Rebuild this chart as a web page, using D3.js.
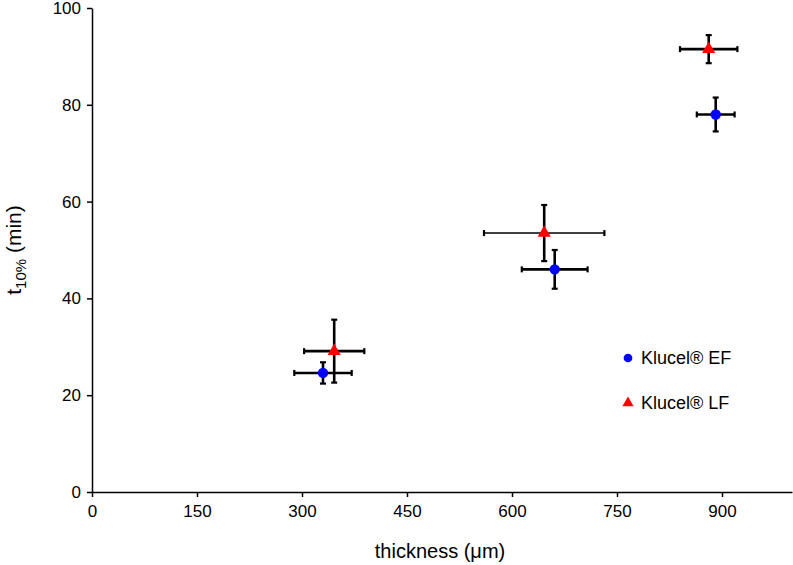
<!DOCTYPE html>
<html>
<head>
<meta charset="utf-8">
<script src="https://cdn.jsdelivr.net/npm/d3@7"></script>
<style>
  html, body { margin: 0; padding: 0; background: #fff; }
  svg { display: block; font-family: "Liberation Sans", Arial, Helvetica, sans-serif; }
</style>
</head>
<body>
<svg id="chart" width="793" height="565"></svg>
<script>
// ---- data ----
const seriesNames = ["Klucel\u00AE EF", "Klucel\u00AE LF"];
const efThickness = [330, 661, 891];
const efThicknessErr = [41, 47, 27];
const efT10 = [24.6, 46.0, 78.0];
const efT10Err = [2.2, 4.0, 3.5];
const lfThickness = [346, 646, 881];
const lfThicknessErr = [43, 86, 41];
const lfT10 = [29.1, 53.5, 91.5];
const lfT10Err = [6.5, 5.8, 2.9];
const xTicks = [0, 150, 300, 450, 600, 750, 900];
const yTicks = [0, 20, 40, 60, 80, 100];

// ---- layout ----
const svg = d3.select("#chart");
const x = d3.scaleLinear().domain([0, 1000]).range([92, 792]);
const y = d3.scaleLinear().domain([0, 100]).range([492, 8]);

// axes
const xAxis = svg.append("g").attr("transform", `translate(0,${y(0)})`)
  .call(d3.axisBottom(x).tickValues(xTicks).tickSize(5).tickSizeOuter(0).tickPadding(8));
const yAxis = svg.append("g").attr("transform", `translate(${x(0)},0)`)
  .call(d3.axisLeft(y).tickValues(yTicks).tickSize(5).tickSizeOuter(0).tickPadding(6));
[xAxis, yAxis].forEach(g => {
  g.select(".domain").attr("stroke", "#000").attr("stroke-width", 1.5);
  g.selectAll(".tick line").attr("stroke", "#000").attr("stroke-width", 1.5);
  g.selectAll(".tick text").attr("fill", "#000").style("font-size", "17px")
    .style("font-family", "'Liberation Sans', Arial, sans-serif");
});

// axis titles
svg.append("text").attr("x", 440).attr("y", 558).attr("text-anchor", "middle")
  .style("font-size", "20px").text("thickness (\u03BCm)");
const yt = svg.append("text").attr("transform", "translate(21,250) rotate(-90)")
  .attr("text-anchor", "middle").style("font-size", "21px");
yt.append("tspan").text("t");
yt.append("tspan").attr("dy", 5).style("font-size", "15px").text("10%");
yt.append("tspan").attr("dy", -5).text(" (min)");

// error bars + markers
const cap = 3;
function drawSeries(xs, xe, ys, ye, thinX) {
  const g = svg.append("g");
  xs.forEach((xv, i) => {
    const px = x(xv), py = y(ys[i]);
    const x0 = x(xv - xe[i]), x1 = x(xv + xe[i]);
    const y0 = y(ys[i] - ye[i]), y1 = y(ys[i] + ye[i]);
    const wx = thinX[i] ? 1.4 : 2.6;
    g.append("line").attr("x1", x0).attr("x2", x1).attr("y1", py).attr("y2", py)
      .attr("stroke", "#000").attr("stroke-width", wx);
    g.append("line").attr("x1", x0).attr("x2", x0).attr("y1", py - cap).attr("y2", py + cap)
      .attr("stroke", "#000").attr("stroke-width", 2.2);
    g.append("line").attr("x1", x1).attr("x2", x1).attr("y1", py - cap).attr("y2", py + cap)
      .attr("stroke", "#000").attr("stroke-width", 2.2);
    g.append("line").attr("x1", px).attr("x2", px).attr("y1", y0).attr("y2", y1)
      .attr("stroke", "#000").attr("stroke-width", 2.6);
    g.append("line").attr("x1", px - cap).attr("x2", px + cap).attr("y1", y0).attr("y2", y0)
      .attr("stroke", "#000").attr("stroke-width", 2.2);
    g.append("line").attr("x1", px - cap).attr("x2", px + cap).attr("y1", y1).attr("y2", y1)
      .attr("stroke", "#000").attr("stroke-width", 2.2);
  });
  return g;
}
const gEF = drawSeries(efThickness, efThicknessErr, efT10, efT10Err, [false, false, false]);
const gLF = drawSeries(lfThickness, lfThicknessErr, lfT10, lfT10Err, [false, true, false]);

const circle = d3.symbol().type(d3.symbolCircle).size(85);
const tri = d3.symbol().type(d3.symbolTriangle).size(75);
efThickness.forEach((xv, i) => {
  svg.append("path").attr("d", circle())
    .attr("transform", `translate(${x(xv)},${y(efT10[i])})`).attr("fill", "#0000ff");
});
lfThickness.forEach((xv, i) => {
  svg.append("path").attr("d", tri())
    .attr("transform", `translate(${x(xv)},${y(lfT10[i])})`).attr("fill", "#ff0000");
});

// legend
const legend = svg.append("g");
const legY = [358, 403];
legend.append("path").attr("d", d3.symbol().type(d3.symbolCircle).size(60)())
  .attr("transform", `translate(628,${legY[0]})`).attr("fill", "#0000ff");
legend.append("path").attr("d", d3.symbol().type(d3.symbolTriangle).size(55)())
  .attr("transform", `translate(628,${legY[1]})`).attr("fill", "#ff0000");
seriesNames.forEach((n, i) => {
  legend.append("text").attr("x", 641).attr("y", legY[i]).attr("dy", "0.35em")
    .style("font-size", "18px").text(n);
});
</script>
</body>
</html>
